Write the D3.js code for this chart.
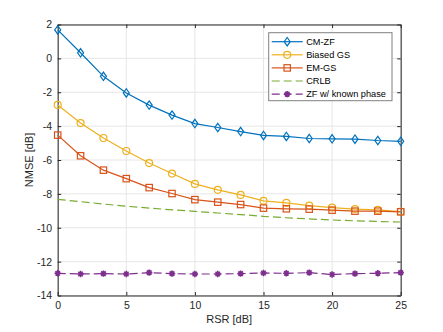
<!DOCTYPE html>
<html>
<head>
<meta charset="utf-8">
<script src="https://d3js.org/d3.v7.min.js"></script>
<style>
  body { margin: 0; background: #fff; }
  text { font-family: "Liberation Sans", Arial, sans-serif; }
</style>
</head>
<body>
<svg id="chart" width="443" height="332"></svg>
<script>
// data
var rsr = [0, 1.667, 3.333, 5, 6.667, 8.333, 10, 11.667, 13.333, 15, 16.667, 18.333, 20, 21.667, 23.333, 25];
var cmZF = [1.68, 0.33, -1.06, -2.04, -2.76, -3.35, -3.85, -4.08, -4.32, -4.55, -4.61, -4.73, -4.75, -4.77, -4.85, -4.9];
var biasedGS = [-2.75, -3.82, -4.7, -5.47, -6.18, -6.8, -7.41, -7.76, -8.06, -8.41, -8.53, -8.69, -8.81, -8.9, -8.94, -9.04];
var emGS = [-4.53, -5.75, -6.6, -7.1, -7.63, -7.98, -8.34, -8.49, -8.63, -8.84, -8.88, -8.9, -8.96, -9.02, -9.02, -9.06];
var crlb = [-8.32, -8.46, -8.6, -8.73, -8.84, -8.94, -9.03, -9.13, -9.22, -9.33, -9.41, -9.48, -9.54, -9.59, -9.63, -9.66];
var zfKnown = [-12.69, -12.73, -12.71, -12.73, -12.65, -12.71, -12.73, -12.73, -12.71, -12.67, -12.69, -12.65, -12.76, -12.71, -12.69, -12.65];
var xTicks = [0, 5, 10, 15, 20, 25];
var yTicks = [-14, -12, -10, -8, -6, -4, -2, 0, 2];

var series = [
  { name: 'CM-ZF', values: cmZF, color: '#0072BD', marker: 'diamond', dash: null },
  { name: 'Biased GS', values: biasedGS, color: '#EDB120', marker: 'circle', dash: null },
  { name: 'EM-GS', values: emGS, color: '#D95319', marker: 'square', dash: null },
  { name: 'CRLB', values: crlb, color: '#77AC30', marker: null, dash: '8,4' },
  { name: 'ZF w/ known phase', values: zfKnown, color: '#7E2F8E', marker: 'star', dash: '8,4' }
];

var svg = d3.select('#chart');
var margin = { left: 57.7, right: 42.3, top: 24.5, bottom: 36.5 };
var width = 443 - margin.left - margin.right;
var height = 332 - margin.top - margin.bottom;

var g = svg.append('g').attr('transform', `translate(${margin.left},${margin.top})`);

var x = d3.scaleLinear().domain([0, 25]).range([0, width]);
var y = d3.scaleLinear().domain([-14, 2]).range([height, 0]);

g.append('rect').attr('width', width).attr('height', height).attr('fill', '#fff');

// grid
g.selectAll('.gx').data(xTicks).enter().append('line')
  .attr('x1', d => x(d)).attr('x2', d => x(d))
  .attr('y1', 0).attr('y2', height)
  .attr('stroke', '#e6e6e6').attr('stroke-width', 1);
g.selectAll('.gy').data(yTicks).enter().append('line')
  .attr('y1', d => y(d)).attr('y2', d => y(d))
  .attr('x1', 0).attr('x2', width)
  .attr('stroke', '#e6e6e6').attr('stroke-width', 1);

// axes
var axColor = '#262626';
var xAxis = g.append('g').attr('transform', `translate(0,${height})`)
  .call(d3.axisBottom(x).tickValues(xTicks).tickSize(-3.5).tickPadding(6.5).tickSizeOuter(0));
var yAxis = g.append('g')
  .call(d3.axisLeft(y).tickValues(yTicks).tickSize(-3.5).tickPadding(5.5).tickSizeOuter(0).tickFormat(d3.format('d')));
var xTop = g.append('g')
  .call(d3.axisTop(x).tickValues(xTicks).tickSize(-3.5).tickFormat('').tickSizeOuter(0));
var yRight = g.append('g').attr('transform', `translate(${width},0)`)
  .call(d3.axisRight(y).tickValues(yTicks).tickSize(-3.5).tickFormat('').tickSizeOuter(0));
[xAxis, yAxis, xTop, yRight].forEach(a => {
  a.selectAll('path').attr('stroke', axColor);
  a.selectAll('line').attr('stroke', axColor);
  a.selectAll('text').attr('fill', axColor).style('font-size', '10.5px');
});
yAxis.selectAll('text').text(d => d < 0 ? '-' + Math.abs(d) : d);

// axis labels
svg.append('text')
  .attr('x', margin.left + width / 2).attr('y', 323)
  .attr('text-anchor', 'middle').attr('fill', axColor).style('font-size', '11px')
  .text('RSR [dB]');
svg.append('text')
  .attr('transform', `translate(33,${margin.top + height / 2}) rotate(-90)`)
  .attr('text-anchor', 'middle').attr('fill', axColor).style('font-size', '11px')
  .text('NMSE [dB]');

function drawMarker(sel, type, color) {
  if (type === 'diamond') {
    sel.append('path').attr('d', 'M0,-4.2L3,0L0,4.2L-3,0Z')
      .attr('fill', 'none').attr('stroke', color).attr('stroke-width', 1.2);
  } else if (type === 'circle') {
    sel.append('circle').attr('r', 3.5)
      .attr('fill', 'none').attr('stroke', color).attr('stroke-width', 1.2);
  } else if (type === 'square') {
    sel.append('rect').attr('x', -3.2).attr('y', -3.2).attr('width', 6.4).attr('height', 6.4)
      .attr('fill', 'none').attr('stroke', color).attr('stroke-width', 1.2);
  } else if (type === 'star') {
    var r = 3.2;
    sel.append('path')
      .attr('d', `M${-r},0L${r},0M0,${-r}L0,${r}M${-r * 0.7},${-r * 0.7}L${r * 0.7},${r * 0.7}M${-r * 0.7},${r * 0.7}L${r * 0.7},${-r * 0.7}`)
      .attr('stroke', color).attr('stroke-width', 1.6);
  }
}

var line = d3.line().x((d, i) => x(rsr[i])).y(d => y(d));

series.forEach(s => {
  g.append('path').datum(s.values)
    .attr('d', line)
    .attr('fill', 'none')
    .attr('stroke', s.color)
    .attr('stroke-width', 1.2)
    .attr('stroke-dasharray', s.dash);
  if (s.marker) {
    s.values.forEach((v, i) => {
      var m = g.append('g').attr('transform', `translate(${x(rsr[i])},${y(v)})`);
      drawMarker(m, s.marker, s.color);
    });
  }
});

// legend
var lg = svg.append('g').attr('transform', 'translate(268.7,32.7)');
lg.append('rect').attr('width', 123.3).attr('height', 68)
  .attr('fill', '#fff').attr('stroke', '#808080').attr('stroke-width', 1);
series.forEach((s, i) => {
  var yy = 9 + i * 13.1;
  lg.append('line').attr('x1', 3).attr('x2', 34).attr('y1', yy).attr('y2', yy)
    .attr('stroke', s.color).attr('stroke-width', 1.2).attr('stroke-dasharray', s.dash);
  if (s.marker) {
    var m = lg.append('g').attr('transform', `translate(18.5,${yy})`);
    drawMarker(m, s.marker, s.color);
  }
  lg.append('text').attr('x', 37.5).attr('y', yy + 3.4)
    .attr('fill', '#000').style('font-size', '9.2px')
    .text(s.name);
});
</script>
</body>
</html>
